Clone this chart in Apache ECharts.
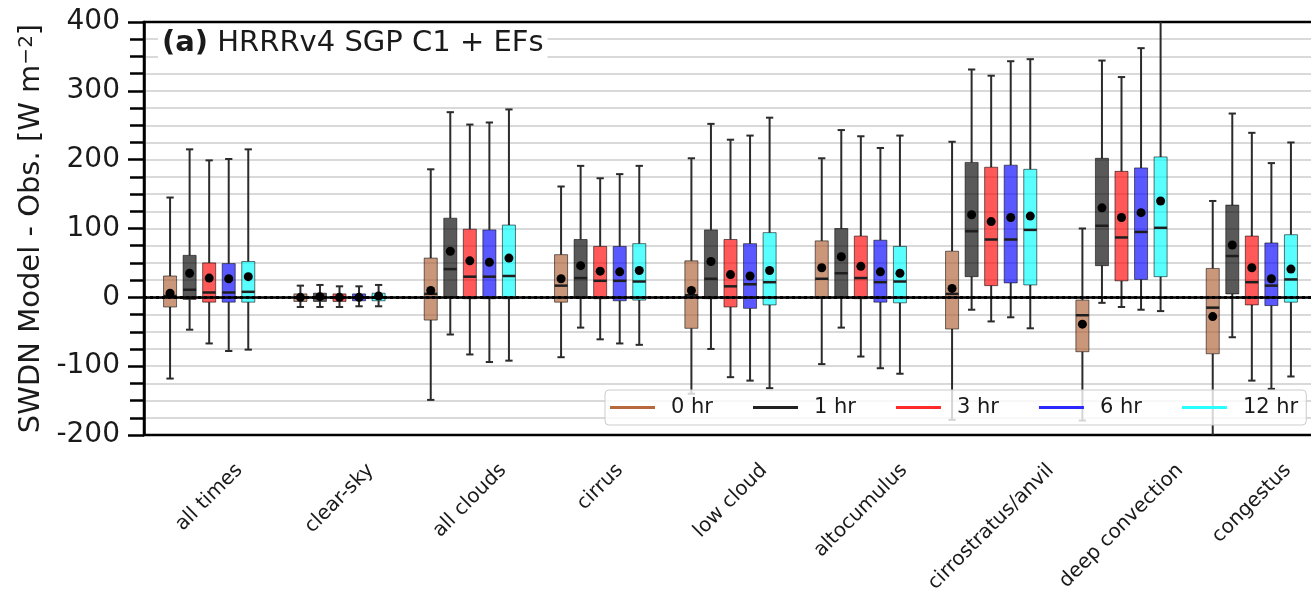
<!DOCTYPE html>
<html>
<head>
<meta charset="utf-8">
<script src="https://cdn.jsdelivr.net/npm/echarts@6/dist/echarts.min.js"></script>
<style>
  html, body { margin: 0; padding: 0; background: #fff; }
  #chart { width: 1311px; height: 598px; }
</style>
</head>
<body>
<div id="chart"></div>
<script>
const categories = ['all times', 'clear-sky', 'all clouds', 'cirrus', 'low cloud',
  'altocumulus', 'cirrostratus/anvil', 'deep convection', 'congestus'];
const leadTimes = ['0 hr', '1 hr', '3 hr', '6 hr', '12 hr'];

// rows follow categories: [low whisker, q1, median, q3, high whisker, mean]
const hr0 = [
  [-118, -14, 2, 31, 145, 6],
  [-14, -6, 0, 5, 17, 0],
  [-149, -33, 5, 57, 186, 10],
  [-87, -7, 17, 62, 161, 27],
  [-140, -45, 3, 53, 202, 10],
  [-97, -1, 27, 82, 202, 43],
  [-178, -46, 5, 67, 226, 13],
  [-179, -79, -26, -4, 100, -39],
  [-215, -82, -15, 42, 140, -28]
];
const hr1 = [
  [-47, -3, 11, 61, 215, 35],
  [-14, -6, 0, 6, 18, 1],
  [-54, 1, 41, 115, 269, 67],
  [-44, -1, 28, 84, 191, 46],
  [-75, -2, 27, 98, 252, 52],
  [-44, 0, 35, 100, 243, 59],
  [-18, 30, 96, 196, 331, 120],
  [-8, 46, 104, 202, 344, 130],
  [-58, 5, 60, 134, 267, 76]
];
const hr3 = [
  [-67, -7, 7, 50, 199, 28],
  [-14, -6, 0, 5, 16, 0],
  [-83, -2, 30, 99, 251, 53],
  [-61, -2, 24, 74, 173, 38],
  [-116, -14, 16, 84, 229, 33],
  [-86, -2, 28, 89, 234, 45],
  [-35, 17, 84, 189, 322, 110],
  [-14, 24, 87, 183, 320, 116],
  [-121, -11, 22, 89, 239, 43]
];
const hr6 = [
  [-78, -7, 7, 49, 201, 27],
  [-13, -5, 0, 5, 16, 0],
  [-94, -2, 30, 98, 254, 51],
  [-67, -5, 24, 74, 179, 37],
  [-121, -16, 19, 78, 235, 31],
  [-103, -7, 22, 83, 217, 37],
  [-29, 21, 84, 192, 343, 116],
  [-18, 26, 95, 188, 362, 123],
  [-133, -12, 17, 79, 195, 27]
];
const hr12 = [
  [-76, -7, 8, 52, 215, 30],
  [-13, -5, 0, 6, 18, 2],
  [-92, -2, 31, 105, 273, 57],
  [-69, -4, 23, 78, 191, 39],
  [-132, -11, 22, 94, 261, 39],
  [-111, -8, 23, 74, 235, 35],
  [-45, 18, 98, 186, 346, 118],
  [-20, 30, 101, 204, 430, 140],
  [-115, -7, 26, 91, 225, 41]
];
const yMin = -200;
const yMax = 400;
const yStep = 100;

const allSeries = [hr0, hr1, hr3, hr6, hr12];
const boxFill = ['rgba(175,95,50,0.65)', 'rgba(0,0,0,0.65)', 'rgba(255,0,0,0.65)',
  'rgba(0,0,255,0.65)', 'rgba(0,255,255,0.65)'];
const lineColors = ['#b8683f', '#222222', '#ff2a2a', '#2a2aff', '#2affff'];
const boxOffsets = [-0.3, -0.15, 0, 0.15, 0.3]; // fraction of category band
const FONT = '"DejaVu Sans", sans-serif';
const TXT = '#1a1a1a';

// matplotlib-style rotated labels: centred on the tick, top of bbox at a fixed line
const ctx = document.createElement('canvas').getContext('2d');
ctx.font = '20px "DejaVu Sans"';
const labelRich = {};
categories.forEach(function (c, i) {
  const p = (ctx.measureText(c).width + 15) / 2;
  labelRich['c' + i] = { padding: [p, p, 0, 0], fontSize: 20, fontFamily: FONT, color: TXT };
});

function renderBox(params, api) {
  const cat = api.value(0);
  const band = api.size([1, 0])[0];
  const x = api.coord([cat, 0])[0] + boxOffsets[params.seriesIndex] * band;
  const half = band * 0.05;
  const cap = band * 0.028;
  const y = function (dim) { return api.coord([cat, api.value(dim)])[1]; };
  const yLo = y(1), yQ1 = y(2), yMed = y(3), yQ3 = y(4), yHi = y(5), yMean = y(6);
  const wStyle = { stroke: '#2b2b2b', lineWidth: 2 };
  return {
    type: 'group',
    children: [
      { type: 'line', shape: { x1: x, y1: yLo, x2: x, y2: yQ1 }, style: wStyle },
      { type: 'line', shape: { x1: x, y1: yQ3, x2: x, y2: yHi }, style: wStyle },
      { type: 'line', shape: { x1: x - cap, y1: yLo, x2: x + cap, y2: yLo }, style: wStyle },
      { type: 'line', shape: { x1: x - cap, y1: yHi, x2: x + cap, y2: yHi }, style: wStyle },
      { type: 'rect', shape: { x: x - half, y: yQ3, width: half * 2, height: yQ1 - yQ3 },
        style: { fill: boxFill[params.seriesIndex], stroke: 'rgba(0,0,0,0.55)', lineWidth: 1 } },
      { type: 'line', shape: { x1: x - half, y1: yMed, x2: x + half, y2: yMed },
        style: { stroke: '#1e1e1e', lineWidth: 2.5 } },
      { type: 'circle', shape: { cx: x, cy: yMean, r: 4.5 }, style: { fill: '#000' } }
    ]
  };
}

const series = allSeries.map(function (rows, s) {
  return {
    name: leadTimes[s],
    type: 'custom',
    renderItem: renderBox,
    clip: true,
    itemStyle: { color: lineColors[s] },
    encode: { x: 0, y: [1, 2, 3, 4, 5, 6] },
    data: rows.map(function (r, i) { return [i].concat(r); })
  };
});

// dotted zero reference line
series[series.length - 1].markLine = {
  silent: true, symbol: 'none', animation: false, z: 10,
  label: { show: false },
  lineStyle: { color: '#000', width: 3, type: 'dotted', opacity: 1 },
  data: [{ yAxis: 0 }]
};

const chart = echarts.init(document.getElementById('chart'));
chart.setOption({
  animation: false,
  backgroundColor: '#fff',
  title: {
    text: '{b|(a)} HRRRv4 SGP C1 + EFs',
    left: 158, top: 27,
    padding: [2, 4, 2, 4],
    backgroundColor: '#fff',
    textStyle: {
      fontFamily: FONT, fontSize: 29, fontWeight: 'normal', color: TXT,
      rich: { b: { fontFamily: FONT, fontSize: 29, fontWeight: 'bold', color: TXT } }
    }
  },
  legend: {
    data: leadTimes.map(function (n, i) {
      return { name: n, icon: 'rect', itemStyle: { color: lineColors[i] } };
    }),
    left: 605, top: 390,
    itemWidth: 45, itemHeight: 3, itemGap: 40,
    padding: [7, 8, 7, 5],
    backgroundColor: 'rgba(255,255,255,0.8)',
    borderColor: '#cccccc', borderWidth: 1, borderRadius: 4,
    selectedMode: false,
    textStyle: { fontFamily: FONT, fontSize: 21, color: TXT, padding: [0, 0, 0, 11] }
  },
  grid: {
    left: 144, top: 22, right: -6, bottom: 163,
    show: true, borderColor: '#000', borderWidth: 2.5, backgroundColor: '#fff',
    outerBoundsMode: 'none'
  },
  xAxis: {
    type: 'category',
    data: categories,
    axisLine: { lineStyle: { color: '#000', width: 2.5 } },
    axisTick: { alignWithLabel: true, length: 14, lineStyle: { color: '#000', width: 2.5 } },
    axisLabel: {
      interval: 0, rotate: 45, align: 'center', verticalAlign: 'middle', margin: 27,
      fontFamily: FONT, fontSize: 20, color: TXT,
      formatter: function (v, i) { return '{c' + i + '|' + v + '}'; },
      rich: labelRich
    },
    splitLine: { show: false },
    z: 5
  },
  yAxis: {
    type: 'value',
    min: yMin, max: yMax, interval: yStep,
    name: '{t|SWDN Model - Obs. [W m}{s|\u22122}{t|]}',
    nameLocation: 'middle', nameRotate: 90, nameGap: 97,
    nameTextStyle: {
      rich: {
        t: { fontFamily: FONT, fontSize: 29, color: TXT },
        s: { fontFamily: FONT, fontSize: 20, color: TXT, verticalAlign: 'top' }
      }
    },
    axisLine: { show: true, lineStyle: { color: '#000', width: 2.5 } },
    axisTick: { show: true, length: 16, lineStyle: { color: '#000', width: 2.5 } },
    minorTick: { show: true, splitNumber: 4, length: 14, lineStyle: { color: '#000', width: 2.5 } },
    splitLine: { show: true, showMinLine: false, showMaxLine: false,
      lineStyle: { color: '#cccccc', width: 1.6 } },
    minorSplitLine: { show: true, lineStyle: { color: '#cccccc', width: 1.6 } },
    axisLabel: { fontFamily: FONT, fontSize: 28, color: TXT, margin: 24 }
  },
  series: series
});
</script>
</body>
</html>
